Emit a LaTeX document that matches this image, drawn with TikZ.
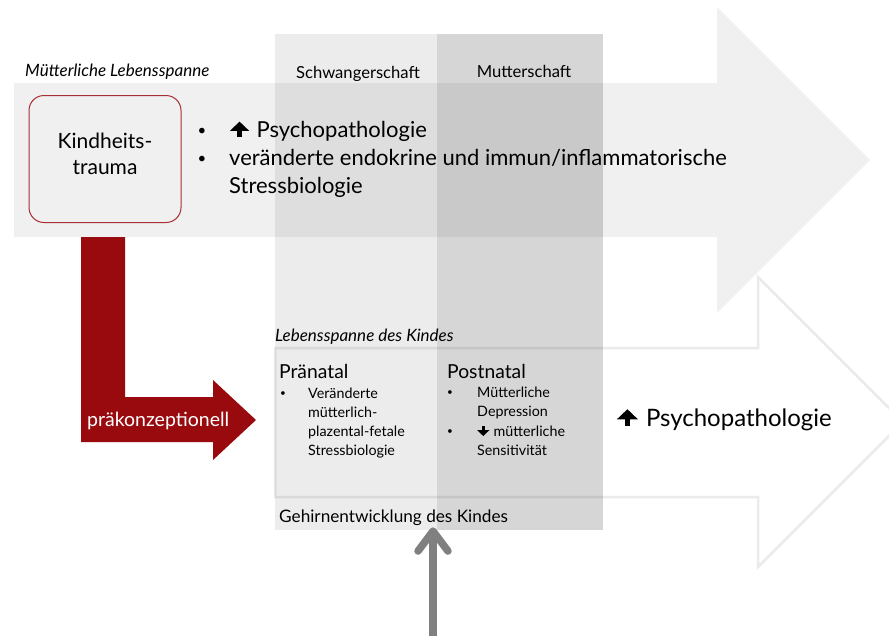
\documentclass[tikz,border=0pt]{standalone}
\usepackage{fontspec}
\setmainfont{Lato}
\usetikzlibrary{arrows.meta,calc,positioning}
\definecolor{BandClr}{rgb}{0.94,0.94,0.94}
\definecolor{TraumaClr}{rgb}{0.6,0.04,0.06}
\definecolor{FrameClr}{rgb}{0.92,0.92,0.92}
\definecolor{RiseClr}{rgb}{0.5,0.5,0.5}
\newcommand{\UpArr}{\tikz[baseline=0pt]\draw[line width=.2em,-{Triangle[width=.85em,length=.42em]}] (0pt,0pt) -- (0pt,.7em);\hspace{.35em}}
\newcommand{\DnArr}{\tikz[baseline=0pt]\draw[line width=.2em,-{Triangle[width=.85em,length=.42em]}] (0pt,.7em) -- (0pt,0pt);\hspace{.3em}}

\begin{document}
\begin{tikzpicture}[x=1pt,y=-1pt,
  every node/.style={inner sep=0pt},
  txt/.style={anchor=base west,align=left},
  span/.style={anchor=base west,font=\fontsize{17}{20}\selectfont\itshape},
  colhead/.style={anchor=base,font=\fontsize{16.6}{20}\selectfont},
  big/.style={font=\fontsize{22}{28}\selectfont},
  huge/.style={font=\fontsize{24}{28}\selectfont},
  mid/.style={font=\fontsize{17.2}{20}\selectfont},
  phase/.style={anchor=base west,font=\fontsize{19.3}{22}\selectfont},
  small/.style={font=\fontsize{14.3}{19}\selectfont},
  dot/.style={anchor=base,font=\fontsize{#1}{#1}\selectfont},
  trauma/.style={draw=TraumaClr!85!white,line width=1pt,rounded corners=15pt,
    minimum width=152pt,minimum height=127pt},
  traumatxt/.style={align=center,font=\fontsize{21}{26}\selectfont},
  riser/.style={RiseClr,line width=7.5pt,line cap=round,
    -{Straight Barb[length=20pt,width=30pt,round]}}]
\clip (0,0) rectangle (889,635);

% maternal band
\fill[BandClr] (14,83) -- (717,83) -- (717,7) -- (870,160) -- (717,313) -- (717,237) -- (14,237) -- cycle;
% child band
\filldraw[fill=white,draw=FrameClr,line width=2.5pt] (275,348) -- (758,348) -- (758,277) -- (903,422) -- (758,567) -- (758,497) -- (275,497) -- cycle;
% phases
\fill[black,opacity=.075] (275,34) rectangle (437,530);
\fill[black,opacity=.16] (437,34) rectangle (603,530);

\node[span] (mlife) at (25,76) {Mütterliche Lebensspanne};
\node[colhead] (schw) at (358,78) {Schwangerschaft};
\node[colhead] (mutt) at (524,77) {Mutterschaft};

\node[trauma] (trauma) at (105,159) {};
\node[traumatxt] (traumatxt) at ([yshift=5pt]trauma.center) {Kindheits-\\trauma};

\node[dot=15] (mb1) at (202,135) {\textbullet};
\node[dot=15] (mb2) at (202,163) {\textbullet};
\node[big,txt] (mt1) at (230,137) {\UpArr Psychopathologie};
\node[big,txt] (mt2) at (229,193) {veränderte endokrine und immun/inflammatorische\\Stressbiologie};

% praekonzeptionell
\fill[TraumaClr] (81,237) -- (125,237) -- (125,397) -- (213,397) -- (213,380) -- (256,420) -- (213,460) -- (213,442) -- (81,442) -- cycle;
\node[txt,white,font=\fontsize{19.5}{22}\selectfont] (prae) at (87,426) {präkonzeptionell};

\node[span] (clife) at (275,341) {Lebensspanne des Kindes};
\node[phase] (pre) at (279,378) {Pränatal};
\node[dot=10] (preb) at (283,396) {\textbullet};
\node[small,txt] (pre1) at (308,455) {Veränderte\\mütterlich-\\plazental-fetale\\Stressbiologie};

\node[phase] (post) at (447,378) {Postnatal};
\node[dot=10] (postb1) at (450,395) {\textbullet};
\node[dot=10] (postb2) at (450,434) {\textbullet};
\node[small,txt] (post1) at (477,416) {Mütterliche\\Depression};
\node[small,txt] (post2) at (477,455) {\DnArr mütterliche\\Sensitivität};

\node[huge,txt] (psy) at (617,426) {\UpArr Psychopathologie};
\node[mid,txt] (hirn) at (279,522) {Gehirnentwicklung des Kindes};

\coordinate (rise) at (433,645);
\draw[riser] (rise) -- ([yshift=-2pt]rise |- hirn.south);

\end{tikzpicture}
\end{document}
